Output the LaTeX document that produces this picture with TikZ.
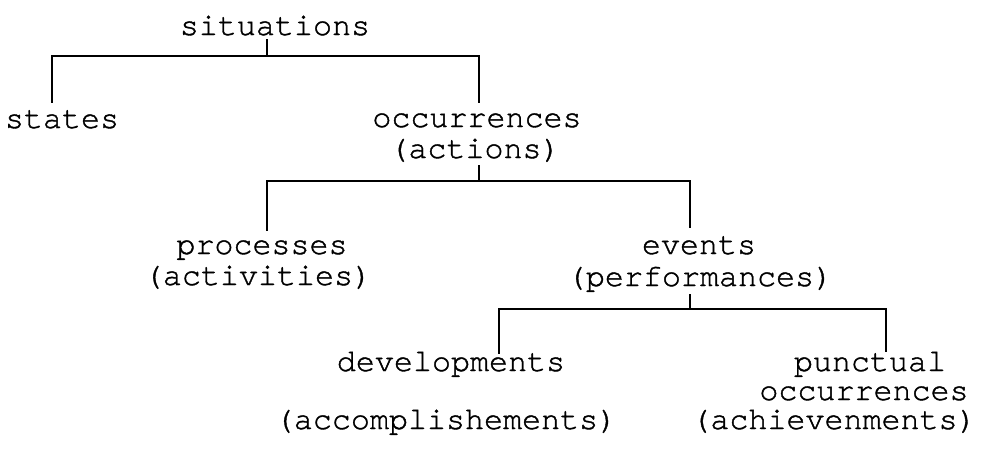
\documentclass[tikz,border=0pt]{standalone}
\usepackage{fontspec}
\newfontfamily\monofam{texgyrecursor-regular.otf}[FakeBold=1.2]
\usetikzlibrary{calc}
\tikzset{
  lbl/.style={anchor=base, inner sep=0pt, outer sep=0pt, font=\monofam\fontsize{31.7}{31}\selectfont},
  conn/.style={line width=1.4pt, line cap=rect}
}
\begin{document}
\begin{tikzpicture}[x=1pt, y=-1pt]
\useasboundingbox (0,0) rectangle (984,451);
% labels
\node[lbl] (sit)   at (275,35)  {situations};
\node[lbl] (sta)   at (62,128)  {states};
\node[lbl] (occ)   at (477,127) {occurrences};
\node[lbl] (act)   at (475,158) {(actions)};
\node[lbl] (pro)   at (262,254) {processes};
\node[lbl] (acv)   at (258,285) {(activities)};
\node[lbl] (eve)   at (699,254) {events};
\node[lbl] (per)   at (700,286) {(performances)};
\node[lbl] (dev)   at (451,371) {developments};
\node[lbl] (acc)   at (446,429) {(accomplishements)};
\node[lbl] (pun)   at (870,371) {punctual};
\node[lbl] (poc)   at (864,400) {occurrences};
\node[lbl] (ach)   at (834,429) {(achievenments)};
% level 1
\draw[conn] (sit.base) ++(-8,5) -- ++(0,16) coordinate (b1);
\draw[conn] (sta.base) ++(-10,-26) |- (b1) -| ($(occ.base)+(2,-25)$);
% level 2
\draw[conn] (act.base) ++(4,8) -- ++(0,15) coordinate (b2);
\draw[conn] (pro.base) ++(5,-24) |- (b2) -| ($(eve.base)+(-9,-27)$);
% level 3
\draw[conn] (per.base) ++(-10,9) -- ++(0,14) coordinate (b3);
\draw[conn] (dev.base) ++(48,-18) |- (b3) -| ($(pun.base)+(16,-20)$);
\end{tikzpicture}
\end{document}
